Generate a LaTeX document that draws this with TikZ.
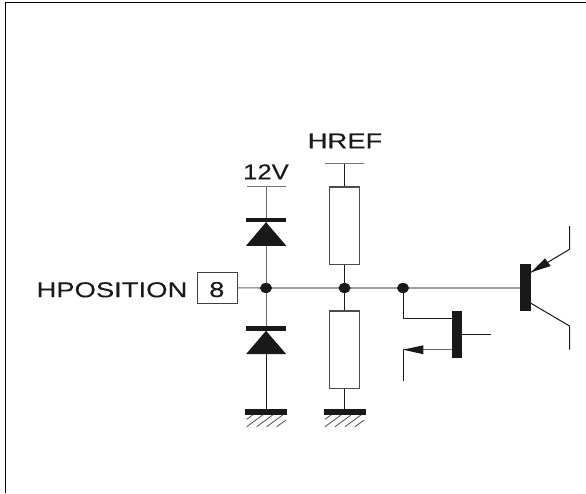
\documentclass[tikz,border=0pt]{standalone}
\usepackage{fontspec}
\setmainfont{Liberation Sans}
\newfontfamily\labfont[FakeStretch=1.275,FakeBold=0.12]{Liberation Sans}
\newfontfamily\vfont[FakeStretch=1.19,FakeBold=0.12]{Liberation Sans}
\usetikzlibrary{shapes.geometric}
\definecolor{ink}{gray}{0.1}
\definecolor{wireh}{gray}{0.42}
\tikzset{
  wire/.style={line width=1pt,draw=ink},
  hwire/.style={line width=1.1pt,draw=wireh},
  lab/.style={font=\labfont\fontsize{21.5}{24}\selectfont,text=ink,inner sep=0pt,anchor=base},
  vlabel/.style={font=\vfont\fontsize{21.5}{24}\selectfont,text=ink,inner sep=0pt,anchor=base},
  resistor/.style={draw=black!70,line width=1.2pt,fill=white,minimum width=29.5pt,minimum height=77.5pt,inner sep=0pt},
  pinbox/.style={draw=black!75,line width=1pt,fill=white,minimum width=40pt,minimum height=31pt,inner sep=0pt},
  junction/.style={ellipse,fill=ink,minimum width=12pt,minimum height=10pt,inner sep=0pt},
  solid bar/.style={fill=ink,draw=none},
  rail/.style={line width=1.1pt,draw=black!55},
  hatch/.style={line width=0.8pt,draw=black!70},
}
\begin{document}
\begin{tikzpicture}[x=1pt,y=-1pt]
\useasboundingbox (0,0) rectangle (586,493);
\fill[white] (0,0) rectangle (586,493);
\draw[black,line width=1pt] (5.5,493) -- (5.5,2.5) -- (586,2.5);

% terminals and nodes
\node[pinbox] (pin) at (217.3,287.8) {};
\node[lab] (pinnum) at (216.8,297) {8};
\node[lab,anchor=base east] (hpos) at (187.5,297.2) {HPOSITION};
\node[lab] (hreflab) at (345,148.3) {HREF};
\node[vlabel] (vlab) at (266,179.3) {12V};

\node[resistor] (r1) at (344.5,225.8) {};
\node[resistor] (r2) at (344.5,349.8) {};

\coordinate (v12) at (266,186.8);
\coordinate (href) at (344.5,163.7);
\coordinate (g1) at (266,409.5);
\coordinate (g2) at (344.5,409.5);
\coordinate (base) at (520,288);
\coordinate (n1) at (266,288);
\coordinate (n2) at (344.5,288);
\coordinate (n3) at (403,288);

% wires
\draw[hwire] (pin.east) -- (n1) -- (n2) -- (n3) -- (base);
\draw[rail] (246.5,186.8) -- (v12) -- (286,186.8);
\draw[rail] (325,163.7) -- (href) -- (364,163.7);
\draw[wire] (v12) -- (n1) -- (g1);
\draw[wire] (href) -- (r1.north);
\draw[wire] (r1.south) -- (n2) -- (r2.north);
\draw[wire] (r2.south) -- (g2);

% junctions
\node[junction] (j1) at (n1) {};
\node[junction] (j2) at (n2) {};
\node[junction] (j3) at (n3) {};

% diodes
\fill[solid bar] (246,217.7) rectangle (286.3,222.2);
\fill[ink] (266,222.2) -- (286.3,245.8) -- (246,245.8) -- cycle;
\fill[solid bar] (246,326) rectangle (286.3,330.8);
\fill[ink] (266,330.8) -- (286.3,354.2) -- (246,354.2) -- cycle;

% grounds
\fill[solid bar] (245.3,409.3) rectangle (287.3,414.8);
\fill[solid bar] (323.7,409.3) rectangle (365.7,414.8);
\foreach \dx in {0,78.3}{
  \begin{scope}[xshift=\dx pt]
  \draw[hatch] (246.7,419.3) -- (252.7,415);
  \draw[hatch] (246.7,426.7) -- (262.7,415);
  \draw[hatch] (256.7,426.7) -- (272.7,415);
  \draw[hatch] (266.7,426.7) -- (282.7,415);
  \draw[hatch] (276.7,426.7) -- (286,420);
  \end{scope}
}

% transistor
\fill[solid bar] (520,264) rectangle (531,311);
\coordinate (etip) at (531,272.3);
\coordinate (ebend) at (569.5,249.3);
\coordinate (eend) at (569.5,226);
\coordinate (cstart) at (531,303.3);
\coordinate (cbend) at (569.5,326);
\coordinate (cend) at (569.5,349.5);
\draw[wire] (etip) -- (ebend) -- (eend);
\draw[wire] (cstart) -- (cbend) -- (cend);
\fill[ink] (etip) -- (545,258.3) -- (550.7,266) -- cycle;

% FET
\fill[solid bar] (452,310.7) rectangle (462.3,358);
\coordinate (gate) at (452,318.7);
\coordinate (drain) at (462.3,334.3);
\coordinate (dend) at (491,334.3);
\coordinate (ssrc) at (452,349.7);
\coordinate (sbend) at (403,349.7);
\coordinate (send) at (403,380.7);
\draw[wire] (j3) |- (gate);
\draw[wire] (drain) -- (dend);
\draw[hwire] (ssrc) -- (sbend);
\draw[wire] (sbend) -- (send);
\fill[ink] (sbend) -- (423.3,345.3) -- (423.3,354.2) -- cycle;
\end{tikzpicture}
\end{document}
